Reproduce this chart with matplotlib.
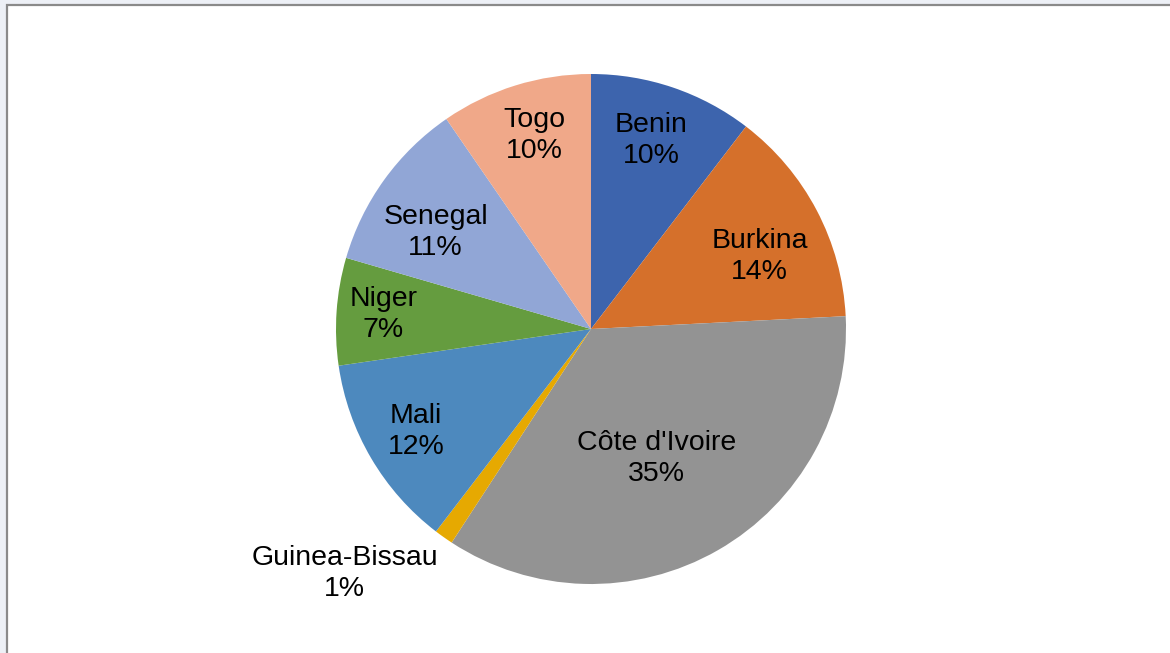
import numpy as np
import matplotlib
matplotlib.use("Agg")
import matplotlib.pyplot as plt
from matplotlib.patches import Rectangle

plt.rcParams['font.family'] = ['Liberation Sans', 'DejaVu Sans']

countries = ['Benin', 'Burkina', "Côte d'Ivoire", 'Guinea-Bissau',
             'Mali', 'Niger', 'Senegal', 'Togo']
shares = [10.4, 13.8, 35.0, 1.2, 12.3, 6.8, 10.9, 9.6]
colors = ['#3d64ad', '#d5702b', '#939393', '#e6a901',
          '#4d89be', '#659c3f', '#91a6d6', '#f0a889']

# label placement (radial distance, angle tweak in degrees, alignment)
label_r = [0.775, 0.72, 0.568, 1.04, 0.795, 0.817, 0.717, 0.79]
label_dt = [1, -4.5, -3, 0, 0, 0, 4, -1]
label_ha = ['center'] * 3 + ['right'] + ['center'] * 4
label_va = ['center'] * 3 + ['top'] + ['center'] * 4

W, H = 1170, 653
fig = plt.figure(figsize=(W / 100, H / 100), dpi=100)
fig.patch.set_facecolor('#edf0f6')
fig.patches.append(Rectangle((7 / W, -0.1), 1.2, 1 - 5 / H + 0.1,
                             transform=fig.transFigure, facecolor='white',
                             edgecolor='#8a8a8a', linewidth=1.6, zorder=-10))

cx, cy, R = 591, 329, 255
ax = fig.add_axes([(cx - R) / W, (H - cy - R) / H, 2 * R / W, 2 * R / H])
wedges, _ = ax.pie(shares, colors=colors, startangle=90, counterclock=False,
                   radius=1, wedgeprops=dict(linewidth=0))
ax.set_xlim(-1, 1)
ax.set_ylim(-1, 1)
ax.axis('off')

total = sum(shares)
for i, w in enumerate(wedges):
    mid = np.deg2rad((w.theta1 + w.theta2) / 2 + label_dt[i])
    x = label_r[i] * np.cos(mid)
    y = label_r[i] * np.sin(mid)
    pct = round(shares[i] / total * 100)
    ax.text(x, y, f"{countries[i]}\n{pct}%", ha=label_ha[i], va=label_va[i],
            multialignment='center', fontsize=20.5, color='black',
            linespacing=1.25)

fig.savefig('out.png', dpi=100)
